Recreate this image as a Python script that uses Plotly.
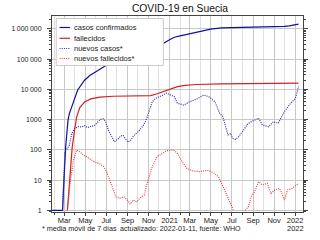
import plotly.graph_objects as go

# ---------------- data ----------------
cases_dates = ["2020-01-24", "2020-02-25", "2020-02-29", "2020-03-05", "2020-03-12", "2020-03-16",
               "2020-03-28", "2020-04-09", "2020-04-29", "2020-05-15", "2020-06-01", "2020-06-15",
               "2020-07-01", "2020-07-15", "2020-08-01", "2020-09-01", "2020-10-01", "2020-10-15",
               "2020-11-01", "2020-11-15", "2020-12-01", "2020-12-15", "2021-01-01", "2021-01-15",
               "2021-02-01", "2021-03-01", "2021-04-01", "2021-05-01", "2021-06-01", "2021-07-01",
               "2021-08-01", "2021-09-01", "2021-10-01", "2021-11-01", "2021-12-01", "2021-12-15",
               "2022-01-01", "2022-01-11"]
cases_values = [1, 1, 10, 126, 970, 1600,
                3900, 9500, 20000, 29000, 38000, 48000,
                62000, 72000, 78000, 84000, 93000, 103000,
                125000, 177000, 243000, 335000, 437000, 524000,
                580000, 680000, 820000, 980000, 1080000, 1095000,
                1105000, 1140000, 1165000, 1180000, 1210000, 1250000,
                1320000, 1420000]

deaths_dates = ["2020-03-10", "2020-03-14", "2020-03-19", "2020-03-24", "2020-03-31", "2020-04-06",
                "2020-04-15", "2020-04-29", "2020-05-17", "2020-06-13", "2020-07-21", "2020-11-07",
                "2020-11-26", "2020-12-23", "2021-01-24", "2021-02-15", "2021-03-20", "2021-06-01",
                "2021-09-01", "2022-01-11"]
deaths_values = [1, 5, 28, 120, 450, 1200,
                 2500, 3800, 4800, 5500, 5900, 6200,
                 7100, 9200, 12300, 13400, 14400, 15200,
                 15600, 16000]

new_cases_dates = ["2020-02-25", "2020-02-29", "2020-03-03", "2020-03-10", "2020-03-16", "2020-03-23",
                   "2020-03-31", "2020-04-11", "2020-04-20", "2020-04-29", "2020-05-08", "2020-05-17",
                   "2020-05-27", "2020-06-05", "2020-06-14", "2020-06-23", "2020-06-29", "2020-07-07",
                   "2020-07-16", "2020-07-25", "2020-08-03", "2020-08-12", "2020-08-19", "2020-08-26",
                   "2020-09-02", "2020-09-09", "2020-09-18", "2020-10-02", "2020-10-16", "2020-10-25",
                   "2020-11-03", "2020-11-12", "2020-11-21", "2020-11-30", "2020-12-09", "2020-12-23",
                   "2021-01-06", "2021-01-15", "2021-01-24", "2021-02-11", "2021-03-01", "2021-03-19",
                   "2021-04-11", "2021-04-25", "2021-05-13", "2021-05-27", "2021-06-05", "2021-06-14",
                   "2021-06-20", "2021-06-28", "2021-07-03", "2021-07-12", "2021-07-21", "2021-08-04",
                   "2021-08-18", "2021-09-01", "2021-09-17", "2021-09-28", "2021-10-16", "2021-10-30",
                   "2021-11-13", "2021-12-01", "2021-12-19", "2022-01-02", "2022-01-11"]
new_cases_values = [1, 10, 87, 112, 144, 350,
                    515, 580, 570, 630, 540, 590,
                    630, 790, 1020, 1050, 850, 450,
                    270, 185, 220, 285, 300, 240,
                    180, 200, 285, 400, 610, 970,
                    2080, 3900, 5000, 5450, 6150, 7400,
                    6450, 5700, 3450, 3030, 3900, 4680,
                    6450, 5700, 3900, 1600, 1240, 515,
                    310, 350, 240, 220, 270, 450,
                    750, 910, 1100, 660, 580, 850,
                    750, 1820, 3450, 5000, 12300]

new_deaths_dates = ["2020-03-10", "2020-03-19", "2020-03-28", "2020-04-06", "2020-04-15", "2020-04-25",
                    "2020-05-04", "2020-05-13", "2020-05-27", "2020-06-09", "2020-06-23", "2020-07-02",
                    "2020-07-11", "2020-07-20", "2020-07-29", "2020-08-08", "2020-08-21", "2020-08-31",
                    "2020-09-09", "2020-09-18", "2020-09-27", "2020-10-11", "2020-10-20", "2020-10-25",
                    "2020-11-03", "2020-11-12", "2020-11-26", "2020-12-09", "2020-12-23", "2021-01-06",
                    "2021-01-15", "2021-01-24", "2021-02-07", "2021-02-21", "2021-03-11", "2021-03-29",
                    "2021-04-21", "2021-05-09", "2021-05-23", "2021-06-06", "2021-06-19", "2021-06-30",
                    "2021-07-06", "2021-07-20", "2021-08-09", "2021-08-18", "2021-08-27", "2021-09-05",
                    "2021-09-17", "2021-09-28", "2021-10-12", "2021-10-23", "2021-11-03", "2021-11-17",
                    "2021-12-01", "2021-12-10", "2021-12-24", "2022-01-11"]
new_deaths_values = [1, 10, 46, 98, 87, 67,
                     60, 52, 40, 36, 28, 19,
                     10, 6, 2.8, 2.5, 2.8, 2.2,
                     1.6, 2.2, 1.9, 2.8, 3.2, 6,
                     13, 28, 59, 73, 93, 98,
                     95, 76, 40, 24, 20, 19,
                     21, 17.5, 13, 6, 2.8, 1.5,
                     1, None, 1, 1.3, 2.8, 4.1,
                     8.8, 6.9, 7.8, 3.6, 4.7, 5.3,
                     2.2, 4.7, 5.3, 7.8]

series_names = ["casos confirmados", "fallecidos", "nuevos casos*", "nuevos fallecidos*"]
series_colors = ["#10109a", "#d42222", "#3030b0", "#e04848"]
series_dashes = ["solid", "solid", "1px,1.2px", "1px,1.2px"]

x_tick_vals = ["2020-03-01", "2020-05-01", "2020-07-01", "2020-09-01", "2020-11-01", "2021-01-01",
               "2021-03-01", "2021-05-01", "2021-07-01", "2021-09-01", "2021-11-01", "2022-01-01"]
x_tick_text = ["Mar", "May", "Jul", "Sep", "Nov", "2021", "Mar", "May", "Jul", "Sep", "Nov", "2022"]
y_tick_vals = [1, 10, 100, 1000, 10000, 100000, 1000000]
y_tick_text = ["1", "10", "100", "1000", "10\u2009000", "100\u2009000", "1\u2009000\u2009000"]

# ---------------- geometry helpers (pixel -> paper) ----------------
W, H = 320, 240
ML, MR, MT, MB = 42, 12, 16, 28
PW, PH = W - ML - MR, H - MT - MB


def px(x):
    return (x - ML) / PW


def py(y):
    return (H - MB - y) / PH


FONT = "Liberation Sans"
fig = go.Figure()
all_x = [cases_dates, deaths_dates, new_cases_dates, new_deaths_dates]
all_y = [cases_values, deaths_values, new_cases_values, new_deaths_values]
for i in range(4):
    fig.add_trace(go.Scatter(x=all_x[i], y=all_y[i], mode="lines", name=series_names[i],
                             line=dict(color=series_colors[i], width=1.2, dash=series_dashes[i]),
                             connectgaps=False, showlegend=False))

# manual legend (box, line samples, labels)
shapes = [dict(type="rect", xref="paper", yref="paper", x0=px(46.5), x1=px(160), y0=py(65.5), y1=py(18.5),
               line=dict(color="#cccccc", width=1), fillcolor="white", layer="above")]
annotations = []
legend_rows = [27.5, 38.3, 48.5, 58.5]
for i in range(4):
    yy = legend_rows[i]
    shapes.append(dict(type="line", xref="paper", yref="paper", x0=px(50), x1=px(61), y0=py(yy), y1=py(yy),
                       line=dict(color=series_colors[i], width=1.2, dash=series_dashes[i]), layer="above"))
    annotations.append(dict(text=series_names[i], x=px(63.5), y=py(yy), xref="paper", yref="paper",
                            xanchor="left", yanchor="middle", showarrow=False,
                            font=dict(size=7.5, color="#222")))

annotations += [
    dict(text="* media móvil de 7 días", x=px(29), y=py(228.5),
         xref="paper", yref="paper", xanchor="left", yanchor="middle",
         showarrow=False, font=dict(size=7.2)),
    dict(text="actualizado: 2022-01-11, fuente: WHO", x=px(178.5), y=py(228.5),
         xref="paper", yref="paper", xanchor="center", yanchor="middle",
         showarrow=False, font=dict(size=7.1)),
    dict(text="2022", x="2022-01-01", y=py(228.5),
         xref="x", yref="paper", xanchor="center", yanchor="middle",
         showarrow=False, font=dict(size=7.5)),
]

fig.update_layout(
    width=W, height=H,
    margin=dict(l=ML, r=MR, t=MT, b=MB),
    paper_bgcolor="white", plot_bgcolor="white",
    font=dict(family=FONT, size=7.5, color="#222"),
    showlegend=False,
    xaxis=dict(type="date", range=["2020-01-25 07:00", "2022-01-24 02:00"],
               tickmode="array", tickvals=x_tick_vals, ticktext=x_tick_text,
               ticks="outside", ticklen=3, tickcolor="#444",
               showgrid=True, gridcolor="#c8c8c8", gridwidth=1,
               minor=dict(dtick="M1", tick0="2020-01-01", ticks="outside", ticklen=2,
                          tickcolor="#444", showgrid=True, gridcolor="#e0e0e0", gridwidth=1),
               showline=True, linecolor="#444", linewidth=1, mirror=True,
               tickfont=dict(size=7.5), ticklabelstandoff=-2, zeroline=False),
    yaxis=dict(type="log", range=[-0.056, 6.423],
               tickmode="array", tickvals=y_tick_vals, ticktext=y_tick_text,
               ticks="outside", ticklen=4, tickcolor="#444",
               showgrid=True, gridcolor="#c8c8c8", gridwidth=1,
               minor=dict(dtick="D1", ticks="outside", ticklen=2, tickcolor="#444", showgrid=False),
               showline=True, linecolor="#444", linewidth=1, mirror="ticks",
               tickfont=dict(size=7), ticklabelstandoff=4, zeroline=False),
    title=dict(text="COVID-19 en Suecia", x=0.51, xref="paper", xanchor="center",
               y=1 - 8 / 240, yref="container", yanchor="middle",
               font=dict(size=10.3, color="#111")),
    shapes=shapes,
    annotations=annotations,
)

fig.write_html("out.html")
